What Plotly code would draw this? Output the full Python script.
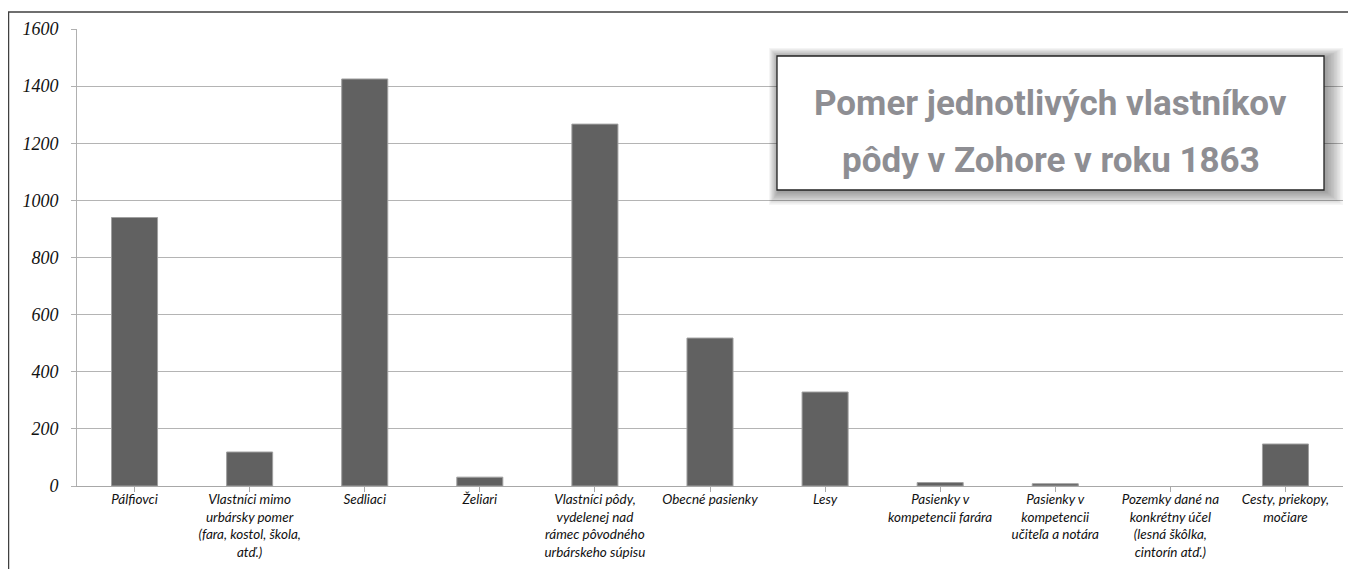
import plotly.graph_objects as go

categories = [
    "Pálfiovci",
    "Vlastníci mimo<br>urbársky pomer<br>(fara, kostol, škola,<br>atď.)",
    "Sedliaci",
    "Želiari",
    "Vlastníci pôdy,<br>vydelenej nad<br>rámec pôvodného<br>urbárskeho súpisu",
    "Obecné pasienky",
    "Lesy",
    "Pasienky v<br>kompetencii farára",
    "Pasienky v<br>kompetencii<br>učiteľa a notára",
    "Pozemky dané na<br>konkrétny účel<br>(lesná škôlka,<br>cintorín atď.)",
    "Cesty, priekopy,<br>močiare",
]
values = [940, 119, 1425, 31, 1267, 518, 329, 12, 8, 0, 147]
y_ticks = [0, 200, 400, 600, 800, 1000, 1200, 1400, 1600]
title_lines = ["Pomer jednotlivých vlastníkov", "pôdy v Zohore v roku 1863"]

# layout helpers (reference pixels -> paper coords)
PX0, PW, PY0, PH = 77, 1266, 29, 457
def xp(px):
    return (px - PX0) / PW
def yp(py):
    return 1 - (py - PY0) / PH

fig = go.Figure(go.Bar(
    x=list(range(len(categories))), y=values,
    marker=dict(color="#616161",
                line=dict(width=[1 if v > 0 else 0 for v in values], color="#a0a0a0")),
    width=0.4,
))

shapes = []
# outer chart border
shapes.append(dict(type="rect", xref="paper", yref="paper",
                   x0=xp(8.5), x1=xp(1355), y0=yp(620), y1=yp(12),
                   line=dict(color="#404040", width=1.5), layer="below"))
# soft shadow for title box
L, R, T, B = 777, 1324, 56, 190
n = 12
for i in range(n):
    f = (n - i) / n
    shapes.append(dict(type="rect", xref="paper", yref="paper",
                       x0=xp(L - 10 * f + 2), x1=xp(R + 18 * f + 1),
                       y0=yp(B + 14 * f + 1), y1=yp(T - 10 * f + 2),
                       line=dict(width=0), fillcolor="rgba(0,0,0,0.035)", layer="above"))
shapes.append(dict(type="rect", xref="paper", yref="paper",
                   x0=xp(L), x1=xp(R), y0=yp(B), y1=yp(T),
                   line=dict(color="#222222", width=1.3), fillcolor="white", layer="above"))

tfont = dict(family="Roboto", size=35, color="#8e8e93", weight="bold")
annotations = [
    dict(text=title_lines[0], xref="paper", yref="paper", x=xp((L + R) / 2), y=yp(103),
         xanchor="center", yanchor="middle", showarrow=False, font=tfont),
    dict(text=title_lines[1], xref="paper", yref="paper", x=xp((L + R) / 2), y=yp(160),
         xanchor="center", yanchor="middle", showarrow=False, font=tfont),
]

# page body has an 8px margin: figure origin is at (8, 8) of the window
fig.update_layout(
    width=1348, height=561,
    margin=dict(l=PX0 - 8, r=1348 - (PX0 - 8) - PW, t=PY0 - 8, b=561 - (PY0 - 8) - PH),
    paper_bgcolor="white", plot_bgcolor="white",
    showlegend=False,
    shapes=shapes,
    annotations=annotations,
    xaxis=dict(
        tickmode="array", tickvals=list(range(len(categories))),
        ticktext=["<i>" + c.replace("<br>", "</i><br><i>") + "</i>" for c in categories],
        range=[-0.5, len(categories) - 0.5],
        showline=True, linecolor="#a8a8a8", linewidth=1,
        ticks="outside", tickson="boundaries", ticklen=5, tickcolor="#a8a8a8",
        tickfont=dict(family="Lato, Liberation Sans, sans-serif", size=13.5, color="#111111"),
        ticklabelstandoff=-4,
        tickangle=0, showgrid=False, zeroline=False, automargin=False,
    ),
    yaxis=dict(
        range=[0, 1600], tickmode="array", tickvals=y_ticks,
        ticktext=[f"<i>{v}</i>" for v in y_ticks],
        showline=True, linecolor="#b0b0b0", linewidth=1,
        ticks="outside", ticklen=5, tickcolor="#b0b0b0",
        gridcolor="#b4b4b4", gridwidth=1,
        tickfont=dict(family="Liberation Serif, serif", size=18, color="#111111", style="italic"),
        ticklabelstandoff=9,
        zeroline=False, automargin=False,
    ),
)

fig.write_html("out.html")
